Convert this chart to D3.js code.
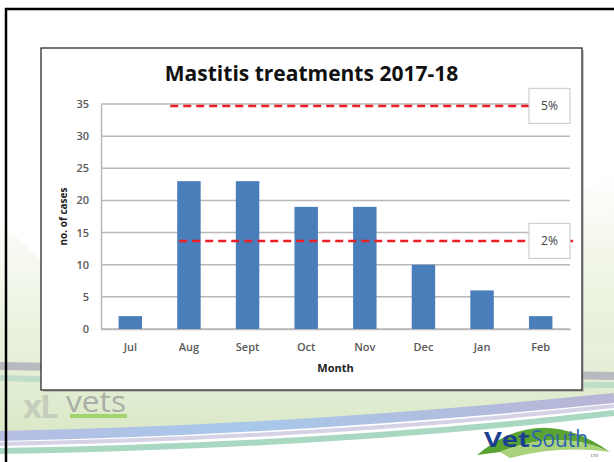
<!DOCTYPE html>
<html>
<head>
<meta charset="utf-8">
<script src="https://cdn.jsdelivr.net/npm/d3@7"></script>
<style>
  html, body { margin: 0; padding: 0; background: #fff; }
  svg { display: block; }
  text { font-family: "Open Sans", "Liberation Sans", sans-serif; }
</style>
</head>
<body>
<svg id="slide" width="614" height="462"></svg>
<script>
// Monthly mastitis treatment counts
const months = ["Jul", "Aug", "Sept", "Oct", "Nov", "Dec", "Jan", "Feb"];
const cases = [2, 23, 23, 19, 19, 10, 6, 2];
const yTicks = [0, 5, 10, 15, 20, 25, 30, 35];

// Herd-level thresholds (cases per month)
const thresholdLabels = ["5%", "2%"];
const thresholdValues = [34.7, 13.7];

const title = "Mastitis treatments 2017-18";
const xTitle = "Month";
const yTitle = "no. of cases";

const W = 614, H = 462;
const svg = d3.select("#slide");

// ---- slide background swooshes ----
const defs = svg.append("defs");
const pale = defs.append("linearGradient").attr("id", "paleGreen")
  .attr("x1", 0).attr("y1", 0).attr("x2", 0).attr("y2", 1);
pale.append("stop").attr("offset", "0").attr("stop-color", "#ffffff");
pale.append("stop").attr("offset", "0.45").attr("stop-color", "#eef4e4");
pale.append("stop").attr("offset", "1").attr("stop-color", "#d9e8c6");

const blueGrad = defs.append("linearGradient").attr("id", "blueBand")
  .attr("x1", 0).attr("y1", 0).attr("x2", 1).attr("y2", 0);
blueGrad.append("stop").attr("offset", "0").attr("stop-color", "#b6bde3");
blueGrad.append("stop").attr("offset", "0.4").attr("stop-color", "#a7c8ea");
blueGrad.append("stop").attr("offset", "1").attr("stop-color", "#b9b5d6");

const glow = defs.append("linearGradient").attr("id", "glowRight")
  .attr("x1", 0).attr("y1", 0).attr("x2", 0).attr("y2", 1);
glow.append("stop").attr("offset", "0").attr("stop-color", "#ffffff");
glow.append("stop").attr("offset", "0.6").attr("stop-color", "#eef4e2");
glow.append("stop").attr("offset", "1").attr("stop-color", "#e6efd8");

const bg = svg.append("g").attr("class", "background");
bg.append("rect").attr("width", W).attr("height", H).attr("fill", "#fff");

// pale green field behind the chart, down to the bottom bands
bg.append("path")
  .attr("d", "M0,220 L0,440 Q300,432 614,402 L614,200 Q590,240 560,260 L40,260 Z")
  .attr("fill", "url(#paleGreen)");
bg.append("path")
  .attr("d", "M582,190 L614,170 L614,340 L582,340 Z")
  .attr("fill", "url(#glowRight)").attr("opacity", 0.8);

// gray and teal swooshes running behind the chart box
bg.append("path").attr("d", "M0,366 Q320,372 614,376")
  .attr("fill", "none").attr("stroke", "#b4b4bc").attr("stroke-width", 8).attr("opacity", 0.9);
bg.append("path").attr("d", "M0,378 Q320,388 614,385")
  .attr("fill", "none").attr("stroke", "#b6d8c6").attr("stroke-width", 6).attr("opacity", 0.8);

// bottom bands
bg.append("path").attr("d", "M0,436 Q300,430 614,398")
  .attr("fill", "none").attr("stroke", "url(#blueBand)").attr("stroke-width", 10);
bg.append("path").attr("d", "M0,444 Q320,438 614,406")
  .attr("fill", "none").attr("stroke", "#d6d2e6").attr("stroke-width", 4);
bg.append("path").attr("d", "M0,451 Q330,446 614,413")
  .attr("fill", "none").attr("stroke", "#a9d8c2").attr("stroke-width", 6);
bg.append("path").attr("d", "M0,462 L0,456 Q330,452 614,418 L614,462 Z").attr("fill", "#fff");

// ---- chart box ----
const box = { x: 41, y: 48, w: 541, h: 342 };
svg.append("rect")
  .attr("x", box.x + 2).attr("y", box.y + 2).attr("width", box.w).attr("height", box.h)
  .attr("fill", "#9a9a9a").attr("opacity", 0.5);
svg.append("rect")
  .attr("x", box.x).attr("y", box.y).attr("width", box.w).attr("height", box.h)
  .attr("fill", "#fff").attr("stroke", "#2b2b2b").attr("stroke-width", 1.3);

const plot = { left: 101, right: 570, top: 104, bottom: 329 };

const x = d3.scaleBand().domain(months)
  .range([plot.left, plot.right]).paddingInner(0.6).paddingOuter(0.3);
const y = d3.scaleLinear().domain([0, 35]).range([plot.bottom, plot.top]);

const chart = svg.append("g").attr("class", "chart");

// horizontal gridlines
chart.append("g").selectAll("line").data(yTicks).join("line")
  .attr("x1", plot.left).attr("x2", plot.right)
  .attr("y1", d => y(d)).attr("y2", d => y(d))
  .attr("stroke", "#b8b8b8").attr("stroke-width", 1.5);

// y axis
const yAxis = chart.append("g")
  .attr("transform", `translate(${plot.left},0)`)
  .call(d3.axisLeft(y).tickValues(yTicks).tickSize(0).tickPadding(12));
yAxis.select(".domain").attr("stroke", "#b8b8b8").attr("stroke-width", 1.5);
yAxis.selectAll("text")
  .attr("font-family", "'Open Sans', sans-serif").attr("font-size", 11)
  .attr("fill", "#595959").attr("font-weight", 600);

// x axis
const xAxis = chart.append("g")
  .attr("transform", `translate(0,${plot.bottom})`)
  .call(d3.axisBottom(x).tickSize(0).tickPadding(14));
xAxis.select(".domain").attr("stroke", "#b8b8b8").attr("stroke-width", 1.5);
xAxis.selectAll("text")
  .attr("font-family", "'Open Sans', sans-serif").attr("font-size", 11)
  .attr("fill", "#595959").attr("font-weight", 600);

// bars
chart.append("g").selectAll("rect").data(months).join("rect")
  .attr("x", d => x(d))
  .attr("y", (d, i) => y(cases[i]))
  .attr("width", x.bandwidth())
  .attr("height", (d, i) => y(0) - y(cases[i]))
  .attr("fill", "#4a7ebb");

// threshold lines with their boxed labels
const labelBox = { x: 529, w: 41, h: 35 };
const lineStart = [x("Aug") - 7, x("Aug") + 2];
const lineEnd = [labelBox.x, 573];
const th = chart.append("g").selectAll("g").data(thresholdValues).join("g");
th.append("line")
  .attr("x1", (d, i) => lineStart[i]).attr("x2", (d, i) => lineEnd[i])
  .attr("y1", d => y(d)).attr("y2", d => y(d))
  .attr("stroke", "#ec1f27").attr("stroke-width", 2.6)
  .attr("stroke-dasharray", "8,5");
th.append("rect")
  .attr("x", labelBox.x).attr("y", d => y(d) - labelBox.h / 2)
  .attr("width", labelBox.w).attr("height", labelBox.h)
  .attr("fill", "#fff").attr("stroke", "#cfcfcf").attr("stroke-width", 1.2);
th.append("text")
  .attr("x", labelBox.x + labelBox.w / 2).attr("y", d => y(d))
  .attr("dy", "0.35em").attr("text-anchor", "middle")
  .attr("font-size", 12).attr("fill", "#404040")
  .text((d, i) => thresholdLabels[i]);

// titles
svg.append("text")
  .attr("x", box.x + box.w / 2).attr("y", 81)
  .attr("text-anchor", "middle")
  .attr("font-size", 21).attr("font-weight", 700).attr("fill", "#111")
  .text(title);
svg.append("text")
  .attr("x", (plot.left + plot.right) / 2).attr("y", 372)
  .attr("text-anchor", "middle")
  .attr("font-size", 11).attr("font-weight", 700).attr("fill", "#222")
  .text(xTitle);
svg.append("text")
  .attr("transform", `translate(67,${(plot.top + plot.bottom) / 2}) rotate(-90)`)
  .attr("text-anchor", "middle")
  .attr("font-size", 10).attr("font-weight", 700).attr("fill", "#222")
  .text(yTitle);

// ---- logos ----
const xl = svg.append("g").attr("class", "xlvets");
xl.append("text").attr("x", 23).attr("y", 418)
  .attr("font-family", "'Liberation Sans', sans-serif")
  .attr("font-size", 33).attr("font-weight", 700).attr("fill", "#c4cebb")
  .attr("letter-spacing", -2).text("xL");
xl.append("text").attr("x", 66).attr("y", 412)
  .attr("font-family", "'Liberation Sans', sans-serif")
  .attr("font-size", 30).attr("fill", "#a9aea6")
  .attr("textLength", 60).attr("lengthAdjust", "spacingAndGlyphs").text("vets");
xl.append("rect").attr("x", 70).attr("y", 414).attr("width", 57).attr("height", 4)
  .attr("fill", "#a3d36e");

const vs = svg.append("g").attr("class", "vetsouth");
vs.append("path").attr("d", "M477,455 Q540,402 610,452 Q560,428 500,452 Z").attr("fill", "#5aa332");
vs.append("path").attr("d", "M500,452 Q560,428 610,452 Q560,445 510,458 Z").attr("fill", "#a9d27a");
vs.append("text").attr("x", 484).attr("y", 447)
  .attr("font-family", "'Liberation Sans', sans-serif")
  .attr("font-size", 22).attr("font-weight", 700).attr("fill", "#1c3f90")
  .attr("textLength", 46).attr("lengthAdjust", "spacingAndGlyphs").text("Vet");
vs.append("text").attr("x", 531).attr("y", 447)
  .attr("font-family", "'Liberation Sans Narrow', 'Liberation Sans', sans-serif")
  .attr("font-size", 23).attr("fill", "#2d63b3")
  .attr("textLength", 57).attr("lengthAdjust", "spacingAndGlyphs").text("South");
vs.append("text").attr("x", 591).attr("y", 457)
  .attr("font-size", 4).attr("fill", "#333").text("LTD");

// slide frame
svg.append("path").attr("d", `M6,${H} L6,9 L${W},9`)
  .attr("fill", "none").attr("stroke", "#000").attr("stroke-width", 2.5);
</script>
</body>
</html>
